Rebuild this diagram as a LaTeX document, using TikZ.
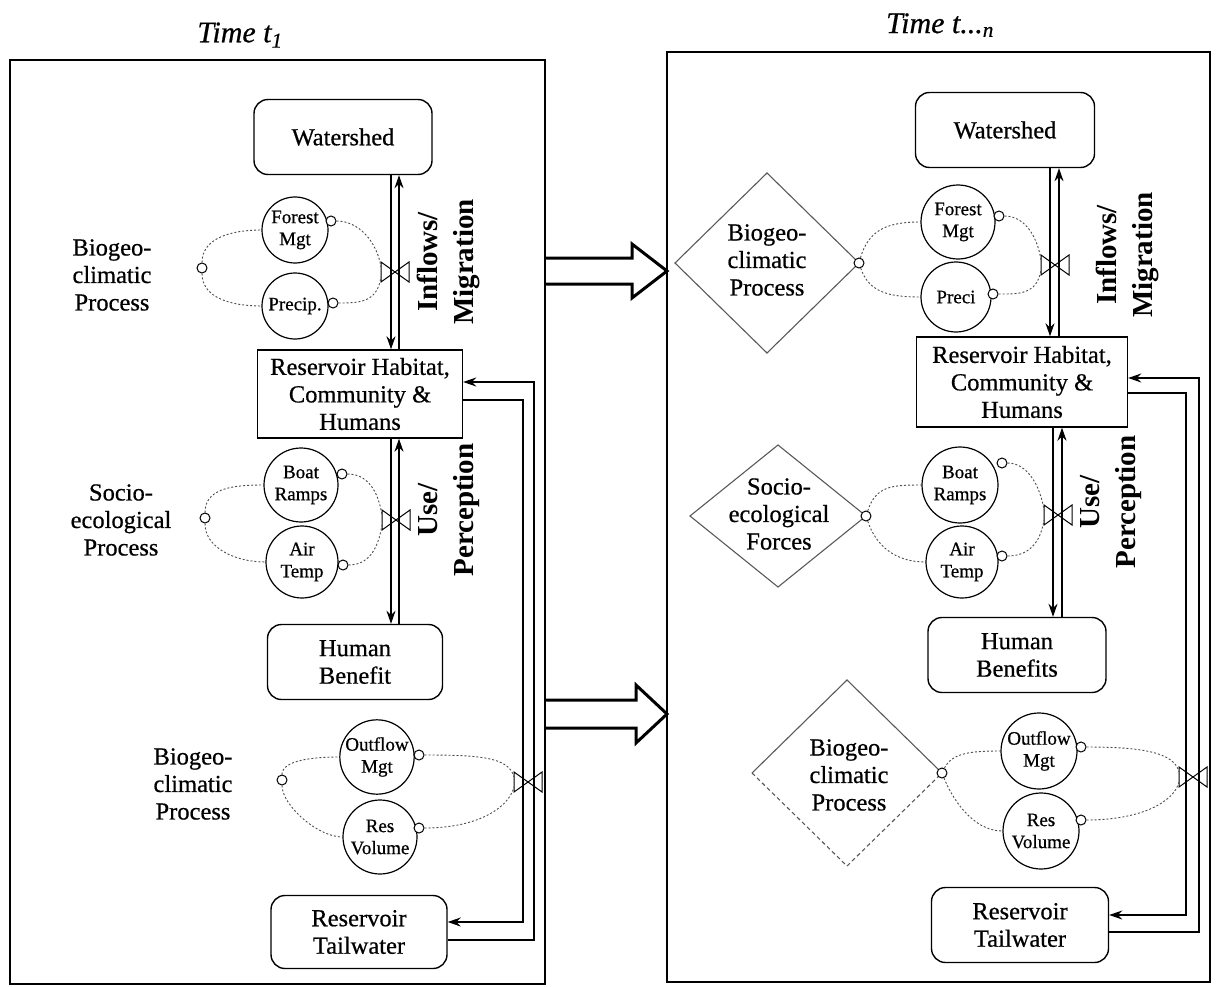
\documentclass[tikz,border=0pt]{standalone}
\usepackage{fontspec}
\setmainfont{Liberation Serif}
\newfontfamily\inkfont{Liberation Serif}[FakeBold=0.6]
\usetikzlibrary{arrows.meta,calc}
\begin{document}
\begin{tikzpicture}[x=1pt,y=-1pt,
  panel/.style={draw,line width=1.8pt,inner sep=0pt,outer sep=0pt},
  rbox/.style={draw,line width=1.4pt,rounded corners=14pt,align=center,
    font=\inkfont\fontsize{24.5}{27.5}\selectfont,inner sep=0pt},
  sbox/.style={draw,line width=1.4pt,align=center,
    font=\inkfont\fontsize{24.5}{27.5}\selectfont,inner sep=0pt},
  var/.style={draw,circle,line width=1.2pt,align=center,inner sep=0pt,
    font=\inkfont\fontsize{19}{22}\selectfont},
  conn/.style={draw,circle,line width=1pt,fill=white,minimum size=10pt,inner sep=0pt},
  infl/.style={line width=0.9pt,gray!60!black,dash pattern=on 2pt off 2pt},
  pipe/.style={line width=1.2pt,-{Stealth[length=13pt,width=9pt]}},
  fbarrow/.style={line width=1.2pt,-{Stealth[length=13pt,width=9pt]}},
  lbl/.style={align=center,font=\inkfont\fontsize{24.5}{27.5}\selectfont},
  vlbl/.style={align=center,rotate=90,font=\bfseries\fontsize{29}{36}\selectfont},
  ttl/.style={font=\inkfont\itshape\fontsize{30}{34}\selectfont},
  dia/.style={line width=1.1pt,gray!70!black},
  bigarrow/.style={line width=3pt,line join=miter},
  bowtie/.pic={\draw[line width=1pt] (-14,-10) -- (14,10) -- (14,-10) -- (-14,10) -- cycle;}
]
\useasboundingbox (0,0) rectangle (1218,987);

% ---------------- panel at time t1 ----------------
\node[panel,minimum width=535pt,minimum height=924pt] (lp) at (277.5,522) {};
\node[ttl] (tl) at (240,35) {Time t\textsubscript{1}};

\node[rbox,minimum width=178pt,minimum height=75pt] (ws) at (343,137) {Watershed};
\node[sbox,minimum width=205pt,minimum height=88pt] (res) at (360,394) {Reservoir Habitat,\\Community \&\\Humans};
\node[rbox,minimum width=175pt,minimum height=75pt] (hb) at (355,662) {Human\\Benefit};
\node[rbox,minimum width=176pt,minimum height=73pt] (tw) at (359,932) {Reservoir\\Tailwater};

\node[var,minimum size=66pt] (fm) at (295,230) {Forest\\Mgt};
\node[var,minimum size=66pt] (pr) at (295,306) {Precip.};
\node[var,minimum size=74pt] (br) at (301,485) {Boat\\Ramps};
\node[var,minimum size=72pt] (at) at (302,562) {Air\\Temp};
\node[var,minimum size=74pt] (om) at (377,757) {Outflow\\Mgt};
\node[var,minimum size=74pt] (rv) at (380,837) {Res\\Volume};

\node[conn] (fmo) at (331,221) {};
\node[conn] (pro) at (333,303) {};
\node[conn] (bro) at (342,474) {};
\node[conn] (ato) at (343,565) {};
\node[conn] (omo) at (419,755) {};
\node[conn] (rvo) at (419,828) {};
\node[conn] (l1) at (202,268) {};
\node[conn] (l2) at (205,518) {};
\node[conn] (l3) at (282,780) {};

\node[lbl] (lb1) at (112,275) {Biogeo-\\climatic\\Process};
\node[lbl] (ls1) at (121,520) {Socio-\\ecological\\Process};
\node[lbl] (lb2) at (193,784) {Biogeo-\\climatic\\Process};
\node[vlbl] (vl1) at (448,262) {Inflows/\\Migration};
\node[vlbl] (vl2) at (449,510) {Use/\\Perception};

% flows between the stocks
\coordinate (pa) at (391,0);
\coordinate (pb) at (399,0);
\draw[pipe] (ws.south -| pa) -- (res.north -| pa);
\draw[pipe] (res.north -| pb) -- (ws.south -| pb);
\draw[pipe] (res.south -| pa) -- (hb.north -| pa);
\draw[pipe] (hb.north -| pb) -- (res.south -| pb);

\coordinate (v1) at (395,272);
\coordinate (v2) at (396,520);
\coordinate (v3) at (528,782);
\pic at (v1) {bowtie};
\pic at (v2) {bowtie};
\pic at (v3) {bowtie};

% feedback between reservoir and tailwater
\coordinate (fbo1) at (534,382);
\coordinate (fbi1) at (523,922);
\draw[fbarrow] ([yshift=-8pt]tw.east) -| (fbo1) -- ([yshift=12pt]res.east);
\draw[fbarrow] ([yshift=-6pt]res.east) -| (fbi1) -- ([yshift=10pt]tw.east);

% influence loops
\draw[infl] (l1) .. controls +(0,-30) and +(-30,0) .. (fm.west);
\draw[infl] (l1) .. controls +(0,30) and +(-30,0) .. (pr.west);
\draw[infl] (fmo) .. controls +(28,0) and +(-4,-25) .. ($(v1)+(-14,-5)$);
\draw[infl] (pro) .. controls +(28,0) and +(-4,25) .. ($(v1)+(-14,5)$);
\draw[infl] (l2) .. controls +(0,-30) and +(-30,0) .. (br.west);
\draw[infl] (l2) .. controls +(0,30) and +(-30,0) .. (at.west);
\draw[infl] (bro) .. controls +(25,0) and +(-4,-25) .. ($(v2)+(-14,-5)$);
\draw[infl] (ato) .. controls +(25,0) and +(-4,25) .. ($(v2)+(-14,5)$);
\draw[infl] (l3) .. controls +(0,-20) and +(-25,0) .. (om.west);
\draw[infl] (l3) .. controls +(0,25) and +(-25,0) .. (rv.west);
\draw[infl] (omo) .. controls +(60,0) and +(-5,-20) .. ($(v3)+(-14,-5)$);
\draw[infl] (rvo) .. controls +(60,0) and +(-5,20) .. ($(v3)+(-14,5)$);

% ---------------- panel at time t...n ----------------
\node[panel,minimum width=543pt,minimum height=930pt] (rp) at (938.5,517) {};
\node[ttl] (tr) at (940,25) {Time t...\textsubscript{n}};

\node[rbox,minimum width=179pt,minimum height=75pt] (ws2) at (1005,130) {Watershed};
\node[sbox,minimum width=211pt,minimum height=90pt] (res2) at (1022,382) {Reservoir Habitat,\\Community \&\\Humans};
\node[rbox,minimum width=178pt,minimum height=75pt] (hb2) at (1017,655) {Human\\Benefits};
\node[rbox,minimum width=177pt,minimum height=75pt] (tw2) at (1020,925) {Reservoir\\Tailwater};

\node[var,minimum size=74pt] (fm2) at (958,222) {Forest\\Mgt};
\node[var,minimum size=70pt] (pr2) at (956,297) {Preci};
\node[var,minimum size=76pt] (br2) at (960,485) {Boat\\Ramps};
\node[var,minimum size=72pt] (at2) at (962,562) {Air\\Temp};
\node[var,minimum size=76pt] (om2) at (1039,751) {Outflow\\Mgt};
\node[var,minimum size=76pt] (rv2) at (1041,831) {Res\\Volume};

\node[conn] (fm2o) at (999,216) {};
\node[conn] (pr2o) at (993,294) {};
\node[conn] (br2o) at (1002,463) {};
\node[conn] (at2o) at (1002,556) {};
\node[conn] (om2o) at (1081,747) {};
\node[conn] (rv2o) at (1081,820) {};

% process diamonds
\node[lbl] (d1) at (767,260) {Biogeo-\\climatic\\Process};
\node[lbl] (d2) at (779,514) {Socio-\\ecological\\Forces};
\node[lbl] (d3) at (849,775) {Biogeo-\\climatic\\Process};
\draw[dia] (675,263) -- (767,173) -- (859,263) -- (767,353) -- cycle;
\draw[dia] (690,516) -- (778,445) -- (866,516) -- (778,587) -- cycle;
\draw[dia] (942,773) -- (847,680) -- (752,773);
\draw[dia,dash pattern=on 4pt off 3pt] (752,773) -- (847,866) -- (942,773);
\node[conn] (d1o) at (859,263) {};
\node[conn] (d2o) at (866,516) {};
\node[conn] (d3o) at (942,773) {};

\node[vlbl] (vl3) at (1127,255) {Inflows/\\Migration};
\node[vlbl] (vl4) at (1111,502) {Use/\\Perception};

\coordinate (pc) at (1050,0);
\coordinate (pd) at (1059,0);
\coordinate (pe) at (1053,0);
\coordinate (pf) at (1062,0);
\draw[pipe] (ws2.south -| pc) -- (res2.north -| pc);
\draw[pipe] (res2.north -| pd) -- (ws2.south -| pd);
\draw[pipe] (res2.south -| pe) -- (hb2.north -| pe);
\draw[pipe] (hb2.north -| pf) -- (res2.south -| pf);

\coordinate (v4) at (1055,265);
\coordinate (v5) at (1058,515);
\coordinate (v6) at (1193,777);
\pic at (v4) {bowtie};
\pic at (v5) {bowtie};
\pic at (v6) {bowtie};

\coordinate (fbo2) at (1199,378);
\coordinate (fbi2) at (1186,915);
\draw[fbarrow] ([yshift=-7pt]tw2.east) -| (fbo2) -- ([yshift=4pt]res2.east);
\draw[fbarrow] ([yshift=-11pt]res2.east) -| (fbi2) -- ([yshift=10pt]tw2.east);

\draw[infl] (d1o) .. controls +(10,-35) and +(-30,0) .. (fm2.west);
\draw[infl] (d1o) .. controls +(10,30) and +(-30,0) .. (pr2.west);
\draw[infl] (fm2o) .. controls +(25,0) and +(-4,-25) .. ($(v4)+(-14,-5)$);
\draw[infl] (pr2o) .. controls +(25,0) and +(-4,25) .. ($(v4)+(-14,5)$);
\draw[infl] (d2o) .. controls +(10,-30) and +(-30,0) .. (br2.west);
\draw[infl] (d2o) .. controls +(10,30) and +(-30,0) .. (at2.west);
\draw[infl] (br2o) .. controls +(25,0) and +(-4,-25) .. ($(v5)+(-14,-5)$);
\draw[infl] (at2o) .. controls +(25,0) and +(-4,25) .. ($(v5)+(-14,5)$);
\draw[infl] (d3o) .. controls +(10,-20) and +(-30,0) .. (om2.west);
\draw[infl] (d3o) .. controls +(10,25) and +(-30,0) .. (rv2.west);
\draw[infl] (om2o) .. controls +(60,0) and +(-5,-20) .. ($(v6)+(-14,-5)$);
\draw[infl] (rv2o) .. controls +(60,0) and +(-5,20) .. ($(v6)+(-14,5)$);

% ---------------- transitions between the two times ----------------
\draw[bigarrow] (lp.east |- 0,258) -- (632,258) -- (632,244) -- (rp.west |- 0,271)
  -- (632,298) -- (632,284) -- (lp.east |- 0,284);
\draw[bigarrow] (lp.east |- 0,700) -- (636,700) -- (636,685) -- (rp.west |- 0,714)
  -- (636,743) -- (636,728) -- (lp.east |- 0,728);
\end{tikzpicture}
\end{document}
